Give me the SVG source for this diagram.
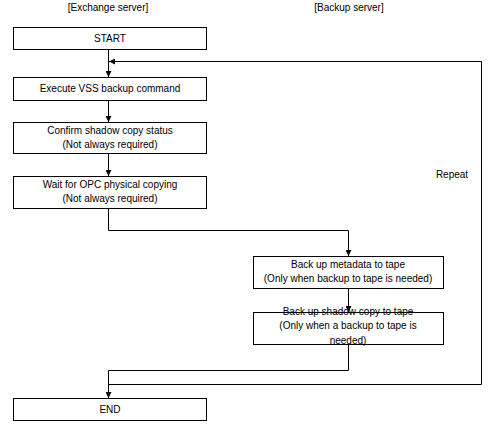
<svg xmlns="http://www.w3.org/2000/svg" width="500" height="432" viewBox="0 0 500 432">
<defs>
<style>
.box{fill:#fff;stroke:#000;stroke-width:1}
.ln{fill:none;stroke:#000;stroke-width:1}
text{font-family:"Liberation Sans",Arial,sans-serif;font-size:10px;fill:#000;text-anchor:middle}
</style>
<marker id="ah" markerUnits="userSpaceOnUse" markerWidth="7" markerHeight="6" refX="6" refY="3" orient="auto">
<path d="M0,0 L6,3 L0,6 z" fill="#000"/>
</marker>
</defs>
<rect width="500" height="432" fill="#fff"/>
<text x="108" y="11">[Exchange server]</text>
<text x="349" y="11">[Backup server]</text>
<g id="connectors">
<path class="ln" d="M108.5,49 V77" marker-end="url(#ah)"/>
<path class="ln" d="M108.5,100 V122" marker-end="url(#ah)"/>
<path class="ln" d="M108.5,153 V176" marker-end="url(#ah)"/>
<path class="ln" d="M108.5,208 V230.5 H348.5 V256" marker-end="url(#ah)"/>
<path class="ln" d="M348.5,288 V312" marker-end="url(#ah)"/>
<path class="ln" d="M348.5,344 V370.5 H108.5 V398" marker-end="url(#ah)"/>
<path class="ln" d="M108.5,384.5 H481.5 V61.5 H109" marker-end="url(#ah)"/>
<text x="452" y="178">Repeat</text>
</g>
<g id="start"><rect class="box" x="13.5" y="27.5" width="193" height="22"/><text x="110" y="42">START</text></g>
<g id="execute"><rect class="box" x="13.5" y="77.5" width="193" height="23"/><text x="110" y="92">Execute VSS backup command</text></g>
<g id="confirm"><rect class="box" x="13.5" y="122.5" width="193" height="31"/><text x="110" y="134">Confirm shadow copy status</text><text x="110" y="148">(Not always required)</text></g>
<g id="wait"><rect class="box" x="13.5" y="176.5" width="193" height="32"/><text x="110" y="188">Wait for OPC physical copying</text><text x="110" y="202">(Not always required)</text></g>
<g id="metadata"><rect class="box" x="253.5" y="256.5" width="190" height="32"/><text x="348" y="268">Back up metadata to tape</text><text x="348" y="282">(Only when backup to tape is needed)</text></g>
<g id="shadow"><rect class="box" x="253.5" y="312.5" width="190" height="32"/><text x="348" y="315">Back up shadow copy to tape</text><text x="348" y="329">(Only when a backup to tape is</text><text x="348" y="344">needed)</text></g>
<g id="end"><rect class="box" x="13.5" y="398.5" width="193" height="22"/><text x="110" y="413">END</text></g>
</svg>
